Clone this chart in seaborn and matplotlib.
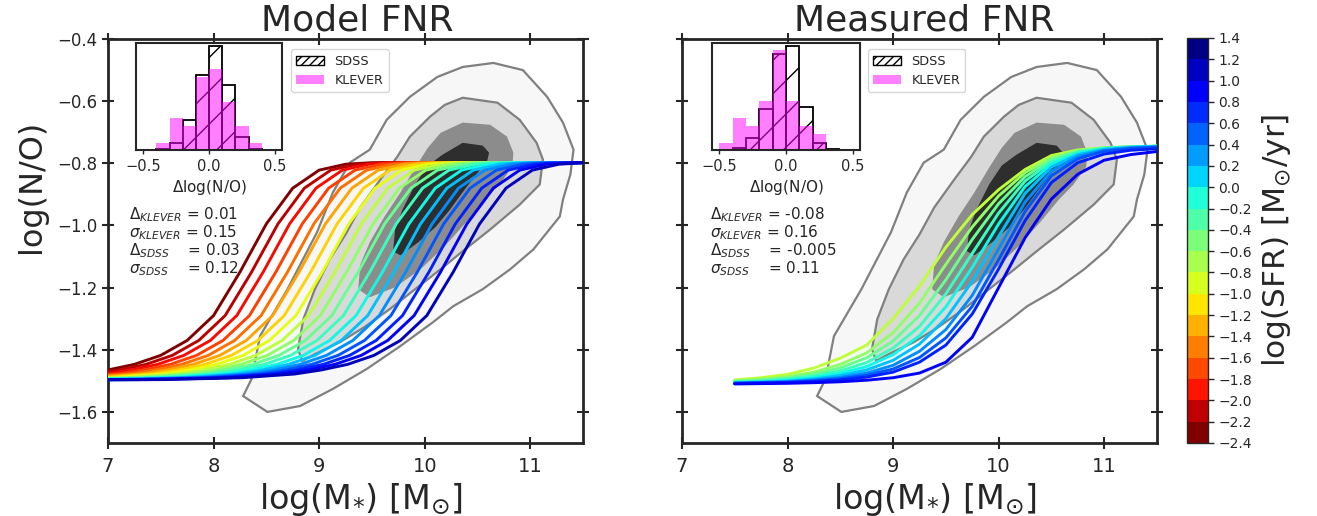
import numpy as np
import pandas as pd
import matplotlib
matplotlib.use("Agg")
import matplotlib as mpl
import matplotlib.pyplot as plt
import matplotlib.patches as mpatches
from matplotlib.colors import BoundaryNorm, Normalize
from matplotlib.ticker import FuncFormatter
import seaborn as sns

sns.set_style("ticks")
plt.rcParams['font.family'] = ['DejaVu Sans']
plt.rcParams['mathtext.fontset'] = 'dejavusans'

# ---------------- data ----------------
sfr_bounds = [-2.4, -2.2, -2.0, -1.8, -1.6, -1.4, -1.2, -1.0, -0.8, -0.6, -0.4,
              -0.2, 0.0, 0.2, 0.4, 0.6, 0.8, 1.0, 1.2, 1.4]

# Model FNR curves: common shape (first curve) + mass offset per SFR
left_sfr = [-2.4, -2.2, -2.0, -1.8, -1.6, -1.4, -1.2, -1.0, -0.8, -0.6, -0.4,
            -0.2, 0.0, 0.2, 0.4, 0.6, 0.8, 1.0, 1.2]
left_shift = [0.00, 0.11, 0.22, 0.34, 0.45, 0.56, 0.67, 0.78, 0.90, 1.01,
              1.12, 1.23, 1.35, 1.46, 1.57, 1.68, 1.79, 1.90, 2.02]
shape_mass = [4.5, 5.5, 6.25, 6.75, 7.0, 7.25, 7.5, 7.75, 8.0, 8.25, 8.5,
              8.75, 9.0, 9.25, 9.5, 13.0]
shape_no = [-1.497, -1.496, -1.490, -1.478, -1.465, -1.447, -1.418, -1.370,
            -1.290, -1.150, -0.995, -0.880, -0.822, -0.803, -0.798, -0.797]

# Measured FNR curves
right_mass = [7.5, 7.75, 8.0, 8.25, 8.5, 8.75, 9.0, 9.25, 9.5, 9.75, 10.0,
              10.25, 10.5, 10.75, 11.0, 11.25, 11.5]
right_sfr = [-0.8, -0.6, -0.4, -0.2, 0.0, 0.2, 0.4, 0.6, 0.8, 1.0]
right_no = {
    -0.8: [-1.497, -1.490, -1.479, -1.459, -1.427, -1.385, -1.300, -1.195, -1.070,
           -0.965, -0.885, -0.820, -0.775, -0.757, -0.750, -0.747, -0.745],
    -0.6: [-1.500, -1.495, -1.487, -1.472, -1.447, -1.410, -1.345, -1.250, -1.125,
           -1.005, -0.905, -0.830, -0.782, -0.759, -0.750, -0.747, -0.745],
    -0.4: [-1.502, -1.498, -1.491, -1.479, -1.458, -1.426, -1.372, -1.290, -1.175,
           -1.045, -0.930, -0.843, -0.788, -0.761, -0.751, -0.747, -0.745],
    -0.2: [-1.504, -1.501, -1.495, -1.485, -1.468, -1.441, -1.395, -1.325, -1.220,
           -1.090, -0.960, -0.857, -0.795, -0.764, -0.752, -0.747, -0.745],
    0.0: [-1.505, -1.503, -1.498, -1.490, -1.476, -1.454, -1.416, -1.355, -1.262,
          -1.135, -0.995, -0.875, -0.803, -0.768, -0.753, -0.748, -0.745],
    0.2: [-1.506, -1.504, -1.501, -1.494, -1.483, -1.465, -1.434, -1.382, -1.300,
          -1.180, -1.035, -0.897, -0.812, -0.772, -0.755, -0.749, -0.746],
    0.4: [-1.507, -1.505, -1.503, -1.497, -1.489, -1.475, -1.450, -1.405, -1.335,
          -1.225, -1.075, -0.925, -0.825, -0.778, -0.758, -0.750, -0.747],
    0.6: [-1.508, -1.506, -1.504, -1.500, -1.493, -1.482, -1.462, -1.425, -1.362,
          -1.260, -1.110, -0.955, -0.840, -0.785, -0.761, -0.752, -0.748],
    0.8: [-1.509, -1.507, -1.505, -1.502, -1.497, -1.488, -1.472, -1.440, -1.385,
          -1.285, -1.140, -0.985, -0.862, -0.798, -0.770, -0.758, -0.753],
    1.0: [-1.510, -1.509, -1.508, -1.506, -1.503, -1.498, -1.490, -1.475, -1.440,
          -1.360, -1.200, -1.040, -0.915, -0.835, -0.790, -0.772, -0.762],
}

# SDSS density contours (mass, N/O outlines), outer to inner
c1_mass = [10.65, 10.93, 11.16, 11.31, 11.41, 11.38, 11.31, 11.28, 11.03, 10.81,
           10.55, 10.27, 10.08, 9.77, 9.45, 9.13, 8.82, 8.51, 8.28, 8.36, 8.44,
           8.70, 8.98, 9.13, 9.29, 9.48, 9.64, 9.86, 10.12, 10.36]
c1_no = [-0.477, -0.500, -0.586, -0.669, -0.756, -0.836, -0.917, -0.971, -1.077,
         -1.141, -1.205, -1.260, -1.311, -1.388, -1.462, -1.526, -1.581, -1.600,
         -1.549, -1.494, -1.356, -1.205, -1.022, -0.894, -0.798, -0.756, -0.660,
         -0.586, -0.522, -0.490]
c2_mass = [10.36, 10.69, 10.90, 11.06, 11.12, 11.09, 10.90, 10.62, 10.36, 10.15,
           9.91, 9.67, 9.43, 9.20, 8.96, 8.84, 8.80, 8.85, 8.96, 9.10, 9.25, 9.39,
           9.58, 9.74, 9.86, 10.05, 10.19]
c2_no = [-0.589, -0.605, -0.660, -0.734, -0.788, -0.868, -0.933, -1.013, -1.083,
         -1.141, -1.205, -1.269, -1.327, -1.375, -1.414, -1.436, -1.398, -1.302,
         -1.205, -1.109, -1.029, -0.942, -0.852, -0.779, -0.714, -0.650, -0.612]
c3_mass = [10.36, 10.62, 10.78, 10.84, 10.83, 10.71, 10.57, 10.40, 10.19, 9.96,
           9.72, 9.48, 9.37, 9.39, 9.48, 9.62, 9.77, 9.91, 10.03, 10.15]
c3_no = [-0.669, -0.676, -0.714, -0.766, -0.811, -0.868, -0.917, -0.987, -1.067,
         -1.141, -1.199, -1.231, -1.205, -1.125, -1.054, -0.971, -0.894, -0.814,
         -0.750, -0.702]
c4_mass = [10.36, 10.55, 10.61, 10.59, 10.51, 10.38, 10.24, 10.10, 9.94, 9.77,
           9.70, 9.72, 9.79, 9.91, 10.03, 10.17]
c4_no = [-0.734, -0.743, -0.766, -0.795, -0.827, -0.884, -0.949, -1.006, -1.054,
         -1.096, -1.083, -1.013, -0.949, -0.868, -0.807, -0.772]

# residual histograms
left_edges = [-0.4, -0.3, -0.2, -0.1, 0.0, 0.1, 0.2, 0.3, 0.4]
left_sdss = [0.05, 0.25, 1.01, 2.55, 3.51, 2.21, 0.45, 0.03]
left_klever = [0.25, 1.07, 0.81, 2.47, 2.75, 1.63, 0.81, 0.25]
right_edges = [-0.5, -0.4, -0.3, -0.2, -0.1, 0.0, 0.1, 0.2, 0.3, 0.4]
right_sdss = [0.0, 0.08, 0.39, 1.40, 3.24, 3.51, 1.46, 0.22, 0.03]
right_klever = [0.25, 1.09, 0.81, 1.65, 3.37, 1.65, 0.81, 0.53, 0.0]

left_stats = [r'$\Delta_{KLEVER}$ = 0.01', r'$\sigma_{KLEVER}$ = 0.15',
              r'$\Delta_{SDSS}$    = 0.03', r'$\sigma_{SDSS}$    = 0.12']
right_stats = [r'$\Delta_{KLEVER}$ = -0.08', r'$\sigma_{KLEVER}$ = 0.16',
               r'$\Delta_{SDSS}$    = -0.005', r'$\sigma_{SDSS}$    = 0.11']

# ---------------- figure ----------------
fig = plt.figure(figsize=(13.17, 5.16), dpi=100)
axL = fig.add_axes([0.0820, 0.1415, 0.3607, 0.7829])
axR = fig.add_axes([0.5178, 0.1415, 0.3607, 0.7829])
cax = fig.add_axes([0.9013, 0.1415, 0.0159, 0.7849])

cmap_c = plt.get_cmap('jet_r')
norm_c = Normalize(-2.4, 1.4)

contours = [(c1_mass, c1_no, '#f7f7f7', '#808080', 1.6),
            (c2_mass, c2_no, '#d9d9d9', '#808080', 1.6),
            (c3_mass, c3_no, '#8c8c8c', 'none', 0),
            (c4_mass, c4_no, '#2e2e2e', 'none', 0)]

for ax in (axL, axR):
    for m, n, fc, ec, lw in contours:
        ax.fill(m, n, facecolor=fc, edgecolor=ec, linewidth=lw, zorder=1)

# left curves
rows = []
for s, sh in zip(left_sfr, left_shift):
    for m, v in zip(shape_mass, shape_no):
        rows.append((s, m + sh, v))
df_left = pd.DataFrame(rows, columns=['sfr', 'mass', 'no'])
pal_left = {s: cmap_c(norm_c(s)) for s in left_sfr}
sns.lineplot(data=df_left, x='mass', y='no', hue='sfr', hue_order=left_sfr,
             palette=pal_left, estimator=None, sort=False, legend=False,
             linewidth=2.1, ax=axL, zorder=3)

rows = []
for s in right_sfr:
    for m, v in zip(right_mass, right_no[s]):
        rows.append((s, m, v))
df_right = pd.DataFrame(rows, columns=['sfr', 'mass', 'no'])
pal_right = {s: cmap_c(norm_c(s)) for s in right_sfr}
sns.lineplot(data=df_right, x='mass', y='no', hue='sfr', hue_order=right_sfr,
             palette=pal_right, estimator=None, sort=False, legend=False,
             linewidth=2.1, ax=axR, zorder=3)

for ax, title, tx in ((axL, 'Model FNR', 0.525), (axR, 'Measured FNR', 0.51)):
    ax.set_xlim(7, 11.5)
    ax.set_ylim(-1.7, -0.4)
    ax.set_xticks([7, 8, 9, 10, 11])
    ax.set_yticks([-1.6, -1.4, -1.2, -1.0, -0.8, -0.6, -0.4])
    ax.tick_params(direction='inout', length=8, width=1.5, top=True, right=True)
    ax.tick_params(axis='x', labelsize=14, pad=6)
    ax.tick_params(axis='y', labelsize=12)
    for sp in ax.spines.values():
        sp.set_linewidth(2)
        sp.set_visible(True)
    ax.set_xlabel(r'log(M$_{*}$) [M$_{\odot}$]', fontsize=24)
    ax.xaxis.label.set_x(0.532)
    ax.set_title(title, fontsize=26, x=tx)
axL.set_ylabel('log(N/O)', fontsize=23)
axL.yaxis.set_label_coords(-0.128, 0.634)
axR.set_ylabel('')
axR.set_yticklabels([])

# insets
def inset(rect, edges, sdss, klever, ax_main, stats, xs, leg_anchor):
    ins = fig.add_axes(rect)
    centers = [(a + b) / 2 for a, b in zip(edges[:-1], edges[1:])]
    sns.histplot(x=centers, weights=sdss, bins=edges, fill=False, color='k',
                 hatch='/', linewidth=1.3, ax=ins)
    sns.histplot(x=centers, weights=klever, bins=edges, fill=True,
                 color='magenta', alpha=0.5, edgecolor='none', linewidth=0, ax=ins)
    ins.set_xlim(-0.555, 0.555)
    ins.set_ylim(0, 3.62)
    ins.set_yticks([])
    ins.set_ylabel('')
    ins.set_xticks([-0.5, 0.0, 0.5])
    ins.tick_params(axis='x', labelsize=10.5, length=3, width=1)
    ins.set_xlabel(r'$\Delta$log(N/O)', fontsize=11, labelpad=3)
    for sp in ins.spines.values():
        sp.set_linewidth(1.5)
        sp.set_visible(True)
    h1 = mpatches.Patch(facecolor='none', edgecolor='k', hatch='////', label='SDSS')
    h2 = mpatches.Patch(facecolor='magenta', alpha=0.5, edgecolor='none', label='KLEVER')
    ax_main.legend(handles=[h1, h2], loc='upper left', bbox_to_anchor=leg_anchor,
                   fontsize=9.2, frameon=True, borderpad=0.4, handlelength=2.2)
    ax_main.text(xs, 0.589, '\n'.join(stats), transform=ax_main.transAxes,
                 fontsize=11, va='top', ha='left', linespacing=0.95, zorder=5)

inset([0.1033, 0.7093, 0.1109, 0.2074], left_edges, left_sdss, left_klever,
      axL, left_stats, 0.045, (0.372, 0.99))
inset([0.5406, 0.7093, 0.1124, 0.2074], right_edges, right_sdss, right_klever,
      axR, right_stats, 0.060, (0.378, 0.99))

# colorbar
cmap_d = mpl.colormaps['jet_r'].resampled(19)
norm_d = BoundaryNorm(sfr_bounds, 19)
cb = mpl.colorbar.ColorbarBase(cax, cmap=cmap_d, norm=norm_d,
                               boundaries=sfr_bounds, ticks=sfr_bounds)
cb.ax.yaxis.set_major_formatter(FuncFormatter(lambda v, p: f"{v:.1f}".replace('-', '\u2212')))
cb.ax.tick_params(labelsize=10, length=4, width=1)
cb.outline.set_linewidth(1)
cb.set_label(r'log(SFR) [M$_{\odot}$/yr]', fontsize=22.5, labelpad=6)

fig.savefig('out.png', dpi=100)
